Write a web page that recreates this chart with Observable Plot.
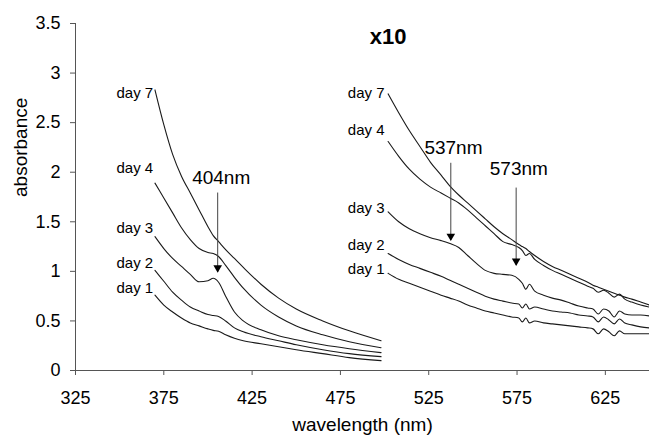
<!DOCTYPE html>
<html><head><meta charset="utf-8">
<script src="https://cdn.jsdelivr.net/npm/d3@7"></script>
<script src="https://cdn.jsdelivr.net/npm/@observablehq/plot@0.6"></script>
<style>body{margin:0;background:#fff}</style>
</head><body><div id="chart"></div>
<script>
// ---- data ----
const days = ["day 1", "day 2", "day 3", "day 4", "day 7"];

// left segment (absorbance as measured)
const leftWl = [370,375,380,385,390,395,400,403,406,410,415,420,430,440,450,465,480,498];
const day1L = [0.76,0.66,0.59,0.53,0.48,0.45,0.42,0.405,0.395,0.36,0.325,0.30,0.27,0.24,0.21,0.17,0.13,0.10];
const day2L = [1.01,0.90,0.79,0.71,0.64,0.60,0.565,0.555,0.545,0.50,0.43,0.39,0.34,0.30,0.26,0.21,0.17,0.14];
const day3L = [1.35,1.23,1.13,1.05,0.97,0.895,0.905,0.93,0.89,0.75,0.59,0.50,0.41,0.35,0.31,0.26,0.22,0.18];
const day4L = [1.89,1.74,1.59,1.44,1.32,1.23,1.19,1.18,1.15,1.06,0.94,0.83,0.66,0.54,0.45,0.36,0.29,0.23];
const day7L = [2.83,2.48,2.18,1.96,1.79,1.62,1.45,1.36,1.30,1.22,1.13,1.04,0.87,0.73,0.62,0.50,0.40,0.30];

// right segment (x10)
const rightWl = [502,508,514,520,526,532,537,542,547,552,557,562,567,572,576,578,580,582,585,590,595,600,605,610,615,618,621,624,627,630,633,636,640,645,650];
const day1R = [0.98,0.92,0.88,0.84,0.80,0.76,0.73,0.70,0.66,0.63,0.60,0.58,0.56,0.54,0.53,0.49,0.53,0.48,0.50,0.48,0.47,0.46,0.45,0.44,0.43,0.42,0.37,0.42,0.39,0.35,0.40,0.37,0.37,0.37,0.37];
const day2R = [1.18,1.12,1.07,1.03,0.99,0.95,0.91,0.87,0.83,0.79,0.75,0.72,0.70,0.68,0.67,0.63,0.67,0.62,0.64,0.62,0.60,0.59,0.58,0.56,0.55,0.54,0.49,0.54,0.51,0.47,0.52,0.48,0.46,0.44,0.43];
const day3R = [1.60,1.50,1.43,1.38,1.34,1.31,1.28,1.24,1.16,1.08,1.01,0.98,0.97,0.96,0.92,0.88,0.82,0.87,0.80,0.76,0.73,0.71,0.68,0.65,0.63,0.62,0.57,0.62,0.60,0.54,0.60,0.57,0.56,0.56,0.55];
const day4R = [2.31,2.16,2.03,1.93,1.85,1.79,1.74,1.69,1.62,1.54,1.46,1.38,1.30,1.27,1.24,1.21,1.16,1.18,1.12,1.06,1.01,0.97,0.93,0.89,0.85,0.83,0.79,0.81,0.78,0.74,0.77,0.72,0.69,0.66,0.64];
const day7R = [2.79,2.60,2.42,2.26,2.10,1.97,1.86,1.77,1.69,1.61,1.53,1.45,1.38,1.32,1.27,1.25,1.23,1.20,1.16,1.10,1.05,1.01,0.97,0.93,0.89,0.86,0.84,0.82,0.80,0.78,0.76,0.74,0.72,0.69,0.66];

// curve labels (text end position, in data units)
const leftLabelWl = 369;
const leftLabelA = [0.83, 1.08, 1.44, 2.04, 2.80];
const rightLabelWl = 500;
const rightLabelA = [1.02, 1.26, 1.64, 2.42, 2.80];

// peak annotations
const peakNames = ["404nm", "537nm", "573nm"];
const peakWl = [405.5, 537.5, 574.5];
const peakTop = [1.79, 2.09, 1.84];
const peakTip = [0.99, 1.31, 1.06];
const peakTextWl = [407.5, 539, 576];
const peakTextA = [1.94, 2.25, 2.03];

const scaleNote = "x10";
const scaleNoteWl = 502;
const scaleNoteA = 3.36;

const xTicks = [325,375,425,475,525,575,625];
const yTicks = [0,0.5,1,1.5,2,2.5,3,3.5];

// ---- build tables ----
const leftVals = [day1L, day2L, day3L, day4L, day7L];
const rightVals = [day1R, day2R, day3R, day4R, day7R];
const rows = [];
days.forEach((d, i) => {
  leftWl.forEach((w, j) => rows.push({key: d + "L", wl: w, a: leftVals[i][j]}));
  rightWl.forEach((w, j) => rows.push({key: d + "R", wl: w, a: rightVals[i][j]}));
});
const labels = [];
days.forEach((d, i) => {
  labels.push({t: d, wl: leftLabelWl, a: leftLabelA[i]});
  labels.push({t: d, wl: rightLabelWl, a: rightLabelA[i]});
});
const peaks = peakNames.map((n, i) => ({n, wl: peakWl[i], top: peakTop[i], tip: peakTip[i], tw: peakTextWl[i], ta: peakTextA[i]}));

const font = '"Liberation Sans", Arial, Helvetica, sans-serif';

const chart = Plot.plot({
  width: 649, height: 440,
  marginLeft: 75, marginRight: 0, marginTop: 23, marginBottom: 70,
  style: {fontFamily: font, background: "#fff", color: "#000"},
  x: {domain: [325, 650]},
  y: {domain: [0, 3.5]},
  marks: [
    Plot.axisY({ticks: yTicks, tickFormat: d => String(d), tickSize: 5, tickPadding: 10, fontSize: 18, label: null, stroke: "#555", fill: "#000"}),
    Plot.axisX({ticks: xTicks, tickFormat: d => String(d), tickSize: 5, tickPadding: 16, fontSize: 18, label: null, stroke: "#555", fill: "#000"}),
    Plot.ruleX([325], {y1: 0, y2: 3.5, stroke: "#555"}),
    Plot.ruleY([0], {stroke: "#555"}),
    Plot.line(rows, {x: "wl", y: "a", z: "key", stroke: "#1a1a1a", strokeWidth: 1.1, curve: "monotone-x"}),
    Plot.text(labels, {x: "wl", y: "a", text: "t", textAnchor: "end", fontSize: 15, fill: "#000"}),
    Plot.ruleX(peaks, {x: "wl", y1: "top", y2: "tip", stroke: "#444", strokeWidth: 1}),
    Plot.dot(peaks, {x: "wl", y: "tip", symbol: "triangle", rotate: 180, r: 3.2, fill: "#000", stroke: "none", dy: -4.5}),
    Plot.text(peaks, {x: "tw", y: "ta", text: "n", fontSize: 19, fill: "#000"}),
    Plot.text([scaleNote], {x: scaleNoteWl, y: scaleNoteA, fontSize: 22, fontWeight: "bold", fill: "#000"}),
    Plot.text(["absorbance"], {frameAnchor: "left", dx: -55, rotate: -90, fontSize: 19, fill: "#000"}),
    Plot.text(["wavelength (nm)"], {frameAnchor: "bottom", dy: 60, fontSize: 19, fill: "#000"})
  ]
});
document.getElementById("chart").appendChild(chart);
</script>
</body></html>
